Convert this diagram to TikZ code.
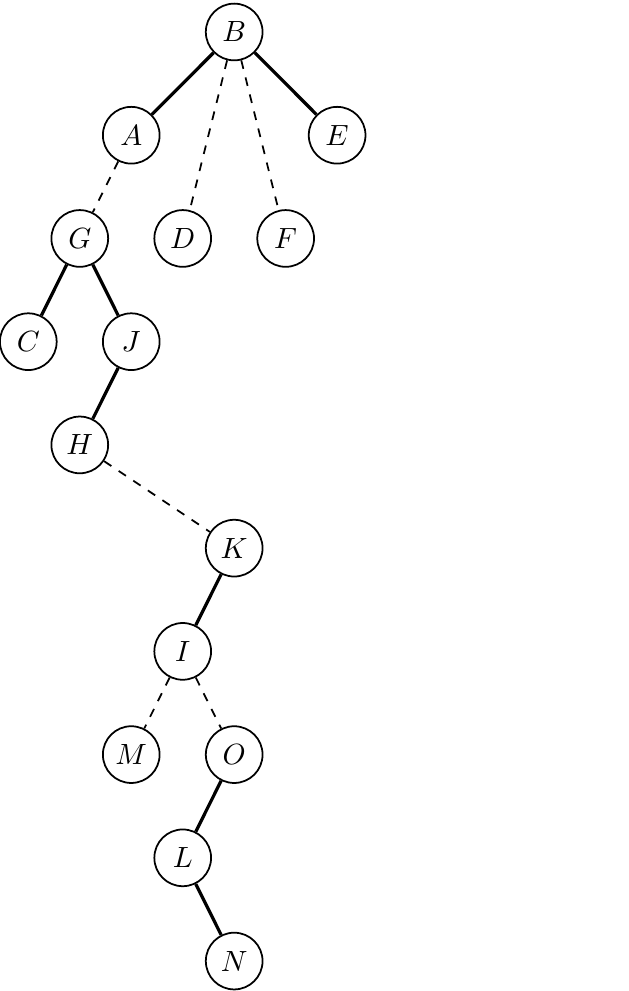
\documentclass[tikz,border=0pt]{standalone}
\begin{document}
\begin{tikzpicture}[
        x=17.6pt, y=-35.3pt, semithick,
        vertex/.style={draw, circle, minimum size=19.4pt, inner sep=0pt},
        tree/.style={line width=1.1pt},
        back/.style={dashed}
    ]
        \useasboundingbox (-0.55,-0.31) rectangle (11.66,9.29);
        % vertices
        \foreach \name/\col/\row in {
            B/4/0, A/2/1, E/6/1, G/1/2, D/3/2, F/5/2, C/0/3, J/2/3,
            H/1/4, K/4/5, I/3/6, M/2/7, O/4/7, L/3/8, N/4/9
        } {
            \node[vertex] (\name) at (\col,\row) {$\name$};
        }
        % tree edges
        \foreach \from/\to in {B/A, B/E, G/C, G/J, J/H, K/I, O/L, L/N}
            \draw[tree] (\from) -- (\to);
        % dashed edges
        \foreach \from/\to in {B/D, B/F, A/G, H/K, I/M, I/O}
            \draw[back] (\from) -- (\to);
\end{tikzpicture}
\end{document}
